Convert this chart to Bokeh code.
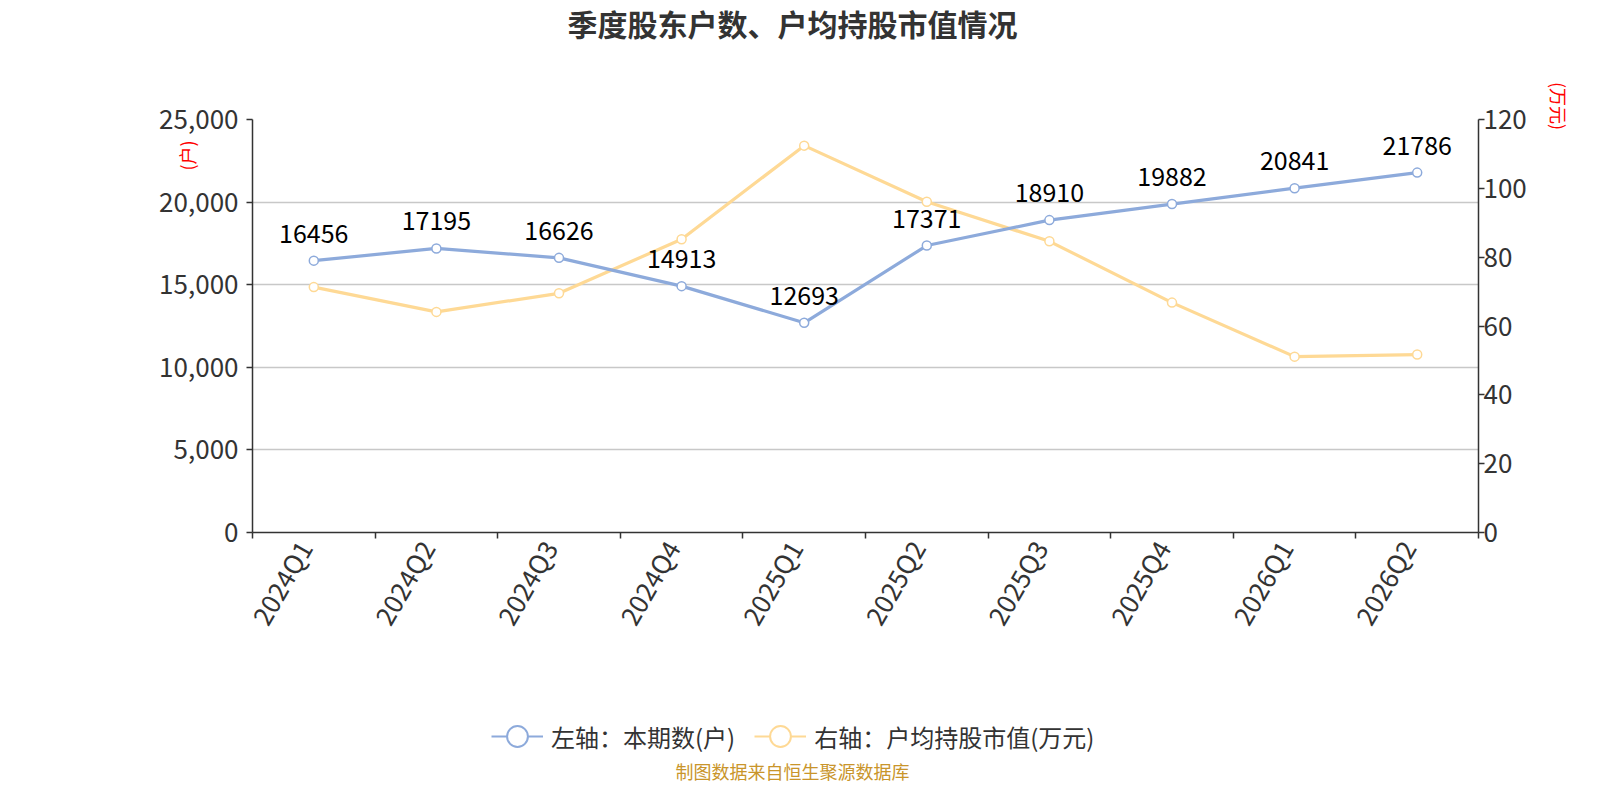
import math
from bokeh.plotting import figure
from bokeh.layouts import column
from bokeh.models import (Range1d, LinearAxis, FixedTicker, NumeralTickFormatter,
                          Legend, LegendItem, ColumnDataSource, Label)
from bokeh.core.properties import value
from bokeh.embed import file_html
from bokeh.resources import INLINE

# ---- data ----
quarters = ["2024Q1", "2024Q2", "2024Q3", "2024Q4", "2025Q1",
            "2025Q2", "2025Q3", "2025Q4", "2026Q1", "2026Q2"]
holders = [16456, 17195, 16626, 14913, 12693, 17371, 18910, 19882, 20841, 21786]
avg_value = [71.3, 64.1, 69.5, 85.2, 112.4, 96.1, 84.6, 66.8, 51.1, 51.7]
left_ticks = [0, 5000, 10000, 15000, 20000, 25000]
right_ticks = [0, 20, 40, 60, 80, 100, 120]

title_text = "季度股东户数、户均持股市值情况"
left_name = "(户)"
right_name = "(万元)"
series_names = ["左轴：本期数(户)", "右轴：户均持股市值(万元)"]
footer_text = "制图数据来自恒生聚源数据库"

FONT = "Noto Sans CJK SC"
BLUE = "#8DAADB"
YELLOW = "#FED995"
AXIS = "#333333"
W = 1584
TOP_H, MAIN_H, BOT_H = 60, 590, 134
LEFT, RIGHT, FRAME_TOP, FRAME_H = 252, 106, 119, 413
FRAME_W = W - LEFT - RIGHT

idx = list(range(len(quarters)))


def blank_fig(h):
    # frames of stacked plots are aligned with the main chart's frame,
    # so x data units here are pixels measured from the frame's left edge
    f = figure(width=W, height=h, output_backend="svg", toolbar_location=None,
               x_range=Range1d(0, FRAME_W), y_range=Range1d(0, h),
               x_axis_location=None, y_axis_location=None, min_border=0)
    f.outline_line_color = None
    f.xgrid.visible = False
    f.ygrid.visible = False
    f.title = None
    return f


# ---- title strip ----
top = blank_fig(TOP_H)
top.add_layout(Label(x=W / 2 - LEFT, y=TOP_H - 22, text=title_text, text_align="center",
                     text_baseline="middle", text_color=AXIS, text_font=FONT,
                     text_font_size="30px", text_font_style="bold"))

# ---- main chart ----
p = figure(width=W, height=MAIN_H, output_backend="svg", toolbar_location=None,
           x_range=Range1d(-0.5, len(quarters) - 0.5),
           y_range=Range1d(left_ticks[0], left_ticks[-1]),
           min_border_left=LEFT, min_border_right=RIGHT,
           min_border_top=FRAME_TOP - TOP_H,
           min_border_bottom=MAIN_H - (FRAME_TOP - TOP_H) - FRAME_H)
p.title = None
p.extra_y_ranges = {"right": Range1d(right_ticks[0], right_ticks[-1])}
p.outline_line_color = None

p.xgrid.visible = False
p.ygrid.ticker = FixedTicker(ticks=left_ticks)
p.ygrid.grid_line_color = "#c8c8c8"
p.ygrid.grid_line_width = 1.3

label_pos = [round(i - 0.08, 2) for i in idx]
xa = p.xaxis[0]
xa.ticker = FixedTicker(ticks=label_pos, minor_ticks=[i - 0.5 for i in range(len(quarters) + 1)])
xa.major_label_overrides = {lp: q for lp, q in zip(label_pos, quarters)}
xa.major_tick_out = 0
xa.major_tick_in = 0
xa.minor_tick_out = 6
xa.minor_tick_in = 0
xa.minor_tick_line_color = AXIS
xa.minor_tick_line_width = 1.5
xa.axis_line_color = AXIS
xa.axis_line_width = 1.5
xa.major_label_orientation = math.pi / 3
xa.major_label_text_font = FONT
xa.major_label_text_font_size = "26px"
xa.major_label_text_color = AXIS
xa.major_label_standoff = 4


def style_y(ax, standoff):
    ax.major_tick_out = 6
    ax.major_tick_in = 0
    ax.minor_tick_line_color = None
    ax.major_tick_line_color = AXIS
    ax.major_tick_line_width = 1.5
    ax.axis_line_color = AXIS
    ax.axis_line_width = 1.5
    ax.major_label_text_font = FONT
    ax.major_label_text_font_size = "26px"
    ax.major_label_text_color = AXIS
    ax.major_label_standoff = standoff
    ax.axis_label_text_font = FONT
    ax.axis_label_text_font_size = "18px"
    ax.axis_label_text_font_style = "normal"
    ax.axis_label_text_color = "red"


ya = p.yaxis[0]
ya.ticker = FixedTicker(ticks=left_ticks)
ya.formatter = NumeralTickFormatter(format="0,0")
style_y(ya, 8)

ra = LinearAxis(y_range_name="right", ticker=FixedTicker(ticks=right_ticks))
style_y(ra, -1)
p.add_layout(ra, "right")

has_align = "axis_label_align" in ya.properties()
# names are anchored at the frame's top edge; full-width spaces shift the
# visible characters to where the reference shows them
ya.axis_label = left_name + "\u3000" * 4
ra.axis_label = right_name + "\u3000\u2002"
if has_align:
    ya.axis_label_align = "end"
    ra.axis_label_align = "end"
ya.axis_label_standoff = -44
ra.axis_label_standoff = 16

p.line(idx, avg_value, line_color=YELLOW, line_width=3.2, y_range_name="right")
p.scatter(idx, avg_value, size=9, fill_color="white", line_color=YELLOW,
          line_width=1.5, y_range_name="right")
p.line(idx, holders, line_color=BLUE, line_width=3.2)
p.scatter(idx, holders, size=9, fill_color="white", line_color=BLUE, line_width=1.5)

p.text(x=idx, y=holders, text=[str(v) for v in holders], text_font=value(FONT),
       text_font_size="25px", text_align="center", text_baseline="bottom",
       y_offset=-18, text_color="black")

# ---- legend + footer strip ----
bot = blank_fig(BOT_H)
d1 = ColumnDataSource(dict(x=[-1000], y=[-1000]))
d2 = ColumnDataSource(dict(x=[-1000], y=[-1000]))
l1 = bot.line("x", "y", source=d1, line_color=BLUE, line_width=2)
s1 = bot.scatter("x", "y", source=d1, size=22, fill_color="white", line_color=BLUE, line_width=2)
l2 = bot.line("x", "y", source=d2, line_color=YELLOW, line_width=2)
s2 = bot.scatter("x", "y", source=d2, size=22, fill_color="white", line_color=YELLOW, line_width=2)
legend = Legend(items=[LegendItem(label=series_names[0], renderers=[l1, s1]),
                       LegendItem(label=series_names[1], renderers=[l2, s2])],
                orientation="horizontal", location=(491 - LEFT, 22),
                glyph_width=52, glyph_height=52, label_standoff=8, spacing=19,
                padding=0, margin=0, border_line_color=None, background_fill_alpha=0,
                label_text_font=FONT, label_text_font_size="24px",
                label_text_color=AXIS)
bot.add_layout(legend, "center")
bot.add_layout(Label(x=W / 2 - LEFT, y=14, text=footer_text, text_align="center",
                     text_baseline="middle", text_color="#C9952B", text_font=FONT,
                     text_font_size="18px"))

layout = column(top, p, bot, spacing=0)
open("out.html", "w").write(file_html(layout, INLINE))
